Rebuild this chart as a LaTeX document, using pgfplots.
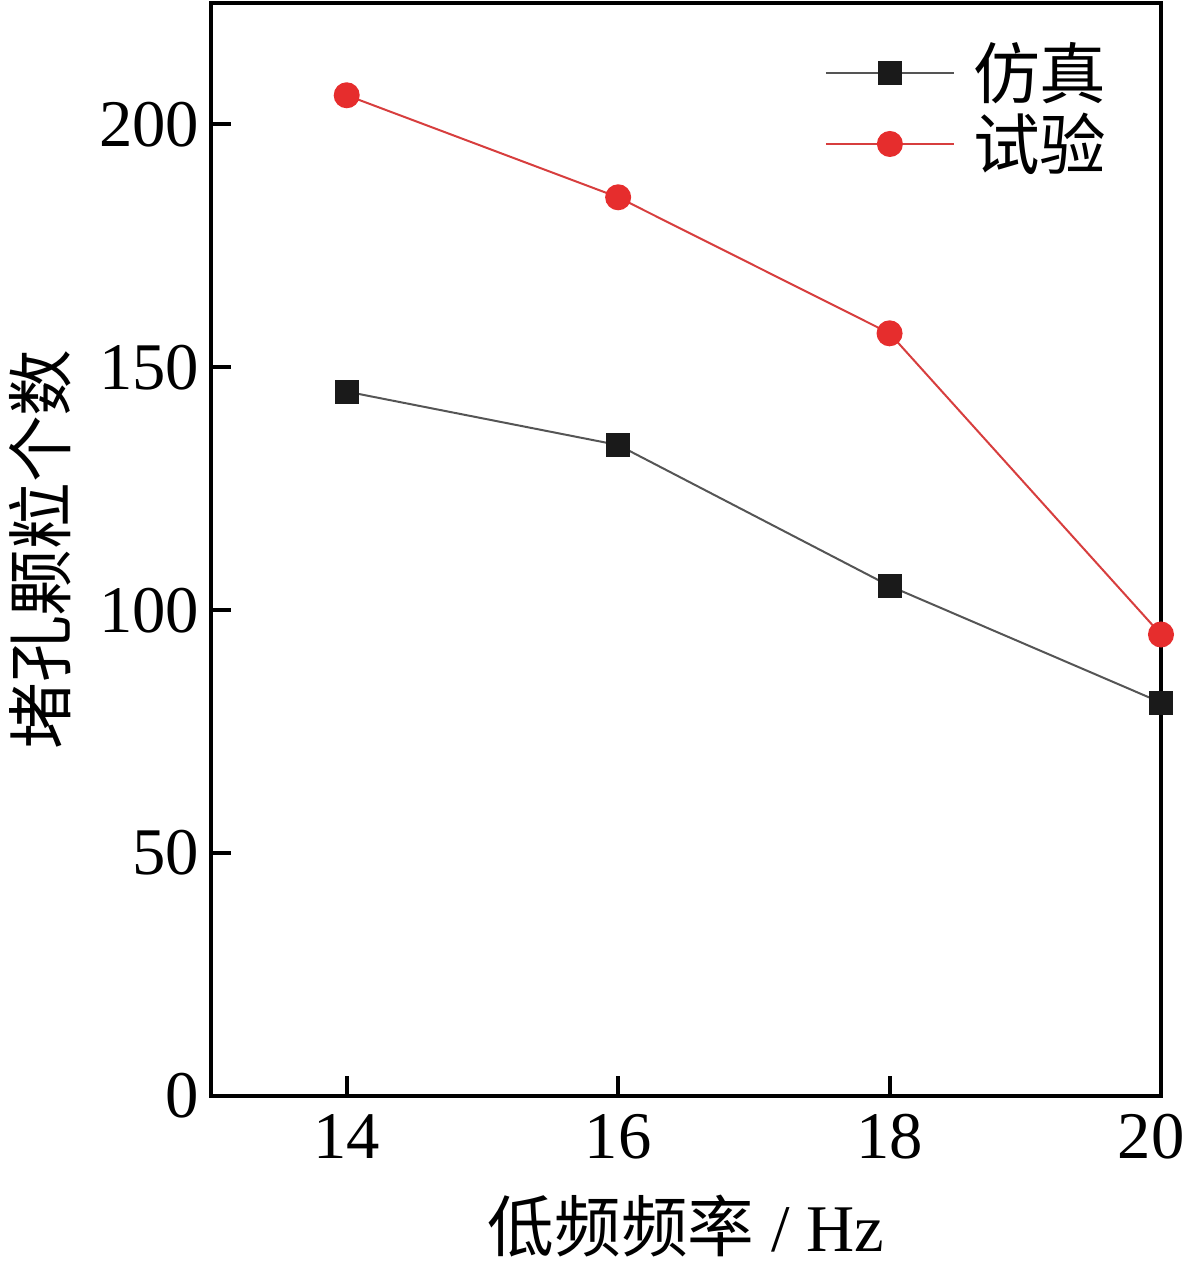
\documentclass[border=0pt]{standalone}
\usepackage{fontspec}
\setmainfont{Liberation Serif}
\newfontfamily\cjk{Noto Sans CJK SC}
\usepackage{pgfplots}
\pgfplotsset{compat=1.18}
\definecolor{simline}{RGB}{85,85,85}
\definecolor{simmark}{RGB}{26,26,26}
\definecolor{expline}{RGB}{215,62,62}
\definecolor{expmark}{RGB}{230,45,45}
\begin{document}
\begin{tikzpicture}
\path[use as bounding box] (-63.3pt,-50.1pt) rectangle (292.2pt,328.8pt);
\begin{axis}[
  at={(0,0)}, anchor=south west,
  scale only axis,
  width=285pt, height=327.9pt,
  xmin=13, xmax=20, ymin=0, ymax=225,
  xtick={14,16,18,20}, ytick={0,50,100,150,200},
  xticklabels={14,16,18,{\hspace*{-6pt}20}},
  minor tick num=0,
  tick pos=left,
  tick align=inside,
  major tick length=6pt,
  every tick/.style={line width=1.2pt, black},
  axis line style={line width=1.2pt, black},
  axis on top,
  clip=false,
  /pgf/number format/assume math mode=true,
  tick label style={font=\fontsize{20}{24}\selectfont},
  xticklabel style={yshift=-2pt},
  label style={font=\fontsize{20}{24}\selectfont},
  xlabel={{\cjk 低频频率} / Hz},
  ylabel={\cjk 堵孔颗粒个数},
  xlabel style={at={(axis description cs:0.5,-0.119)}, anchor=center},
  ylabel style={at={(axis description cs:-0.18,0.5)}, anchor=center},
  legend style={at={(axis description cs:0.635,0.977)}, anchor=north west, draw=none, fill=none,
    font=\fontsize{20}{24}\selectfont\cjk, row sep=-1pt,
    legend cell align=left},
  legend image code/.code={\draw[#1,mark repeat=2,mark phase=2] plot coordinates {(0pt,0pt) (19.2pt,0pt) (38.4pt,0pt)};},
]
\addplot[color=simline, line width=0.6pt, mark=square*, mark size=3.3pt,
  mark options={fill=simmark, draw=simmark, solid}]
  coordinates {(14,145) (16,134) (18,105) (20,81)};
\addlegendentry{\hspace{3.5pt}仿真}
\addplot[color=expline, line width=0.6pt, mark=*, mark size=3.6pt,
  mark options={fill=expmark, draw=expmark, solid}]
  coordinates {(14,206) (16,185) (18,157) (20,95)};
\addlegendentry{\hspace{3.5pt}试验}
\end{axis}
\end{tikzpicture}
\end{document}
